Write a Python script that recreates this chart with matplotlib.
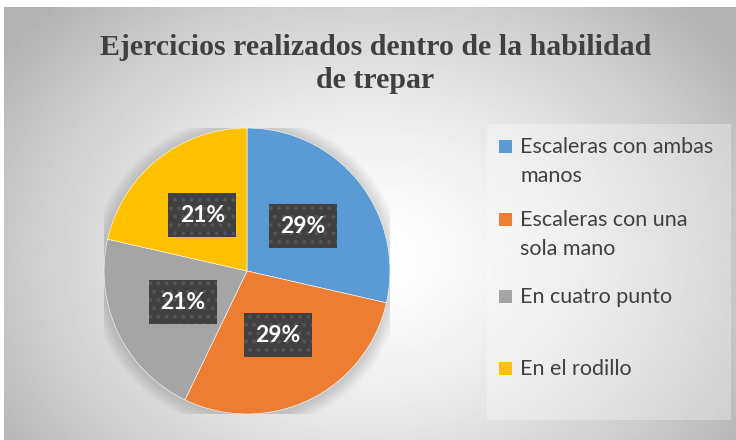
import matplotlib.pyplot as plt
from matplotlib.patches import Rectangle, Circle
import numpy as np

# Data
categories = ['Escaleras con ambas\nmanos', 'Escaleras con una\nsola mano',
              'En cuatro punto', 'En el rodillo']
values = [4, 4, 3, 3]
colors = ['#5B9BD5', '#ED7D31', '#A5A5A5', '#FFC000']
title = 'Ejercicios realizados dentro de la habilidad\nde trepar'

W, H = 736, 440
fig = plt.figure(figsize=(W / 100, H / 100), dpi=100)
fig.patch.set_facecolor('white')

# Radial gradient background for the chart area
bg = fig.add_axes([4 / W, 0, 732 / W, 433 / H])
yy, xx = np.mgrid[0:433, 0:732]
r = np.sqrt(((xx - 366) / 420) ** 2 + ((yy - 250) / 330) ** 2)
shade = np.clip(1 - 0.27 * r ** 1.5, 0.7, 1)
bg.imshow(shade, cmap='gray', vmin=0, vmax=1, aspect='auto', interpolation='bilinear')
bg.axis('off')

# Legend box
fig.patches.append(Rectangle((487 / W, 1 - 420 / H), 244 / W, 296 / H,
                             transform=fig.transFigure, facecolor='white',
                             alpha=0.3, edgecolor='none', zorder=1))

# Pie
cx, cy, rad = 247, 271, 143
ax = fig.add_axes([(cx - rad) / W, (H - cy - rad) / H, 2 * rad / W, 2 * rad / H])
ax.axis('off')

# soft shadow
for k in range(8):
    ax.add_patch(Circle((0.0, -0.01), 1 + 0.012 * (k + 1), color='black',
                        alpha=0.018, lw=0, zorder=0))

wedges, texts, autotexts = ax.pie(
    values, colors=colors, startangle=90, counterclock=False, radius=1,
    autopct=lambda p: f'{p:.0f}%', pctdistance=0.5,
    wedgeprops=dict(edgecolor='white', linewidth=0.4),
    textprops=dict(color='white', fontsize=16.5, fontweight='bold', family='Lato'))
ax.set_xlim(-1, 1)
ax.set_ylim(-1, 1)

plt.rcParams['hatch.linewidth'] = 1.5
for t in autotexts:
    t.set_bbox(dict(boxstyle='square,pad=0.5', facecolor='#404040',
                    edgecolor='#555555', hatch='..', linewidth=0))

# Title
fig.text(0.51, 1 - 64 / H, title, ha='center', va='center', fontsize=21.5,
         fontweight='bold', family='Liberation Serif', color='#404040',
         linespacing=1.25)

# Legend (manual)
baselines = [153, 226, 303, 375]
for lab, col, b in zip(categories, colors, baselines):
    fig.patches.append(Rectangle((499 / W, 1 - b / H), 13 / W, 13 / H,
                                 transform=fig.transFigure, facecolor=col,
                                 edgecolor='none', zorder=3))
    for i, line in enumerate(lab.split('\n')):
        fig.text(520 / W, 1 - (b + 29 * i) / H, line, ha='left', va='baseline',
                 fontsize=15.5, family='Lato', color='#404040')

fig.savefig('out.png', dpi=100)
